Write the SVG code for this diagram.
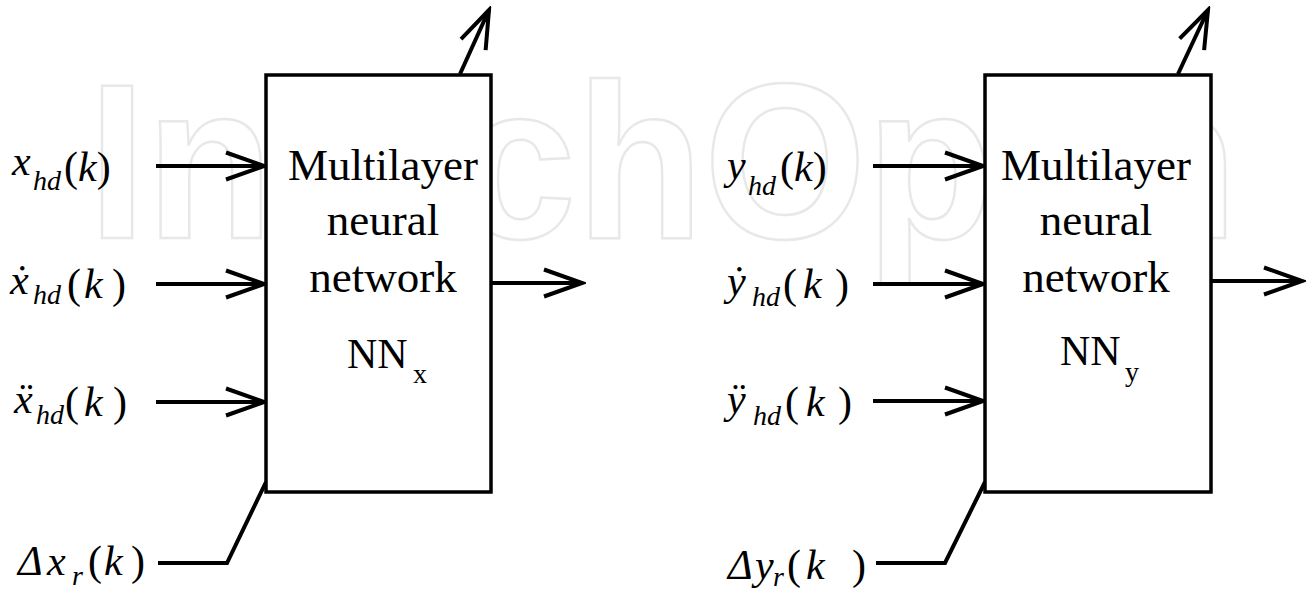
<svg xmlns="http://www.w3.org/2000/svg" width="1309" height="591" viewBox="0 0 1309 591">
<style>
.wm{font-family:"Liberation Sans",Arial,sans-serif;font-size:220px;font-weight:bold;fill:none;stroke:#e8e8e8;stroke-width:2.5}
.box{fill:#fff;stroke:#000;stroke-width:3.5}
.ln{fill:none;stroke:#000;stroke-width:4;stroke-linejoin:miter}
.t{font-family:"Liberation Serif","Times New Roman",serif;font-size:45px;fill:#000;text-anchor:middle}
.nn{font-family:"Liberation Serif","Times New Roman",serif;font-size:42px;fill:#000}
.m{font-family:"Liberation Serif","Times New Roman",serif;font-size:42px;fill:#000}
.i{font-style:italic}
.s{font-size:28px}
</style>
<defs>
<marker id="ah" markerUnits="userSpaceOnUse" viewBox="-42 -16 46 32" refX="0" refY="0" markerWidth="46" markerHeight="32" orient="auto">
<path d="M-38,-13.5 L0,0 L-38,13.5" fill="none" stroke="#000" stroke-width="4"/>
</marker>
</defs>
<rect width="1309" height="591" fill="#fff"/>
<text class="wm" x="88" y="238" textLength="1150" lengthAdjust="spacingAndGlyphs">IntechOpen</text>
<g id="connectors">
<line class="ln" x1="156" y1="166" x2="264" y2="166" marker-end="url(#ah)"/>
<line class="ln" x1="156" y1="284" x2="264" y2="284" marker-end="url(#ah)"/>
<line class="ln" x1="156" y1="402" x2="264" y2="402" marker-end="url(#ah)"/>
<polyline class="ln" points="158,563 227,563 266,482"/>
<line class="ln" x1="460" y1="74" x2="489" y2="10" marker-end="url(#ah)"/>
<line class="ln" x1="491" y1="283" x2="582" y2="283" marker-end="url(#ah)"/>
<line class="ln" x1="873" y1="166" x2="983" y2="166" marker-end="url(#ah)"/>
<line class="ln" x1="873" y1="284" x2="983" y2="284" marker-end="url(#ah)"/>
<line class="ln" x1="873" y1="401" x2="983" y2="401" marker-end="url(#ah)"/>
<polyline class="ln" points="876,563 945,563 985,482"/>
<line class="ln" x1="1178" y1="74" x2="1208" y2="10" marker-end="url(#ah)"/>
<line class="ln" x1="1211" y1="281" x2="1302" y2="281" marker-end="url(#ah)"/>
</g>
<g id="nnx">
<rect class="box" x="266" y="75" width="225" height="417"/>
<text class="t" x="383" y="180">Multilayer</text>
<text class="t" x="383" y="235">neural</text>
<text class="t" x="383" y="292">network</text>
<text class="nn" x="347" y="368">NN<tspan class="s" x="413" y="383">x</tspan></text>
</g>
<g id="nny">
<rect class="box" x="985" y="75" width="226" height="417"/>
<text class="t" x="1096" y="180">Multilayer</text>
<text class="t" x="1096" y="235">neural</text>
<text class="t" x="1096" y="292">network</text>
<text class="nn" x="1060" y="365">NN<tspan class="s" x="1125" y="381">y</tspan></text>
</g>
<g id="in-x">
<text class="m"><tspan class="i" x="12" y="175">x</tspan><tspan class="i s" x="33" y="190">hd</tspan><tspan x="64" y="181">(</tspan><tspan class="i">k</tspan><tspan>)</tspan></text>
</g>
<g id="in-xdot">
<text class="m"><tspan class="i" x="10" y="294">ẋ</tspan><tspan class="i s" x="33" y="304">hd</tspan><tspan x="67" y="298">(</tspan><tspan class="i" x="84">k</tspan><tspan x="112">)</tspan></text>
</g>
<g id="in-xddot">
<text class="m"><tspan class="i" x="14" y="413">ẍ</tspan><tspan class="i s" x="36" y="424">hd</tspan><tspan x="65" y="416">(</tspan><tspan class="i" x="84">k</tspan><tspan x="113">)</tspan></text>
</g>
<g id="in-dxr">
<text class="m"><tspan class="i" x="18" y="575">Δ</tspan><tspan class="i" x="47">x</tspan><tspan class="i s" x="72" y="585">r</tspan><tspan x="88" y="575">(</tspan><tspan class="i" x="104">k</tspan><tspan x="131">)</tspan></text>
</g>
<g id="in-y">
<text class="m"><tspan class="i" x="727" y="179">y</tspan><tspan class="i s" x="748" y="195">hd</tspan><tspan x="780" y="181">(</tspan><tspan class="i">k</tspan><tspan>)</tspan></text>
</g>
<g id="in-ydot">
<text class="m"><tspan class="i" x="727" y="295">ẏ</tspan><tspan class="i s" x="752" y="306">hd</tspan><tspan x="783" y="298">(</tspan><tspan class="i" x="803">k</tspan><tspan x="835">)</tspan></text>
</g>
<g id="in-yddot">
<text class="m"><tspan class="i" x="727" y="413">ÿ</tspan><tspan class="i s" x="753" y="425">hd</tspan><tspan x="785" y="416">(</tspan><tspan class="i" x="806">k</tspan><tspan x="838">)</tspan></text>
</g>
<g id="in-dyr">
<text class="m"><tspan class="i" x="728" y="579">Δ</tspan><tspan class="i" x="755">y</tspan><tspan class="i s" x="773" y="586">r</tspan><tspan x="787" y="579">(</tspan><tspan class="i" x="806">k</tspan><tspan x="852">)</tspan></text>
</g>
</svg>
